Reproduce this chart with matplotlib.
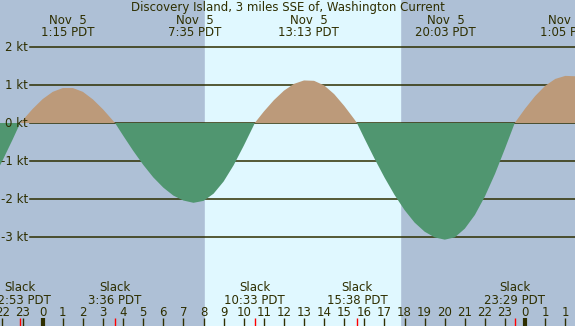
import matplotlib
matplotlib.use("Agg")
import matplotlib.pyplot as plt
import matplotlib.transforms as mtransforms

# hours after Nov 5 00:00 (real elapsed time) and current speed in knots
hours = [-2.5, -2.0, -1.5, -1.117, -1.0, -0.5, 0.0, 0.5, 1.0, 1.5, 2.0, 2.5, 3.0, 3.5, 3.6,
         4.0, 4.5, 5.0, 5.5, 6.0, 6.5, 7.0, 7.5, 8.0, 8.5, 9.0, 9.5, 10.0, 10.5, 10.55,
         11.0, 11.5, 12.0, 12.5, 13.0, 13.5, 14.0, 14.5, 15.0, 15.5, 15.633,
         16.0, 16.5, 17.0, 17.5, 18.0, 18.5, 19.0, 19.5, 20.0, 20.5, 21.0, 21.5, 22.0,
         22.5, 23.0, 23.483, 24.0, 24.5, 25.0, 25.5, 26.0, 26.5]
speed = [-1.50, -0.99, -0.44, 0.0, 0.07, 0.37, 0.63, 0.82, 0.92, 0.92, 0.82, 0.62, 0.36, 0.06, 0.0,
         -0.33, -0.73, -1.10, -1.43, -1.70, -1.91, -2.04, -2.10, -2.05, -1.86, -1.54, -1.11, -0.60, -0.06, 0.0,
         0.30, 0.60, 0.85, 1.03, 1.12, 1.11, 0.99, 0.76, 0.45, 0.10, 0.0,
         -0.40, -0.93, -1.43, -1.89, -2.29, -2.62, -2.86, -3.01, -3.07, -3.01, -2.78, -2.42, -1.93,
         -1.34, -0.67, 0.0, 0.38, 0.71, 0.98, 1.16, 1.24, 1.23]

# max current events
max_hours = [1.25, 7.583, 13.217, 20.05, 26.083]
max_day = ["Nov  5", "Nov  5", "Nov  5", "Nov  5", "Nov  6"]
max_time = ["1:15 PDT", "7:35 PDT", "13:13 PDT", "20:03 PDT", "1:05 PDT"]

# slack events
slack_hours = [-1.117, 3.6, 10.55, 15.633, 23.483]
slack_time = ["22:53 PDT", "3:36 PDT", "10:33 PDT", "15:38 PDT", "23:29 PDT"]

# hour ticks
tick_hours = list(range(-2, 27))
tick_labels = ["22", "23"] + [str(h) for h in range(24)] + ["0", "1", "1"]
midnights = [0, 24]

sunrise = 8.07
sunset = 17.78
kt_levels = [2, 1, 0, -1, -2, -3]

night = "#aec0d6"
day = "#e0f8ff"
flood = "#bc9a7a"
ebb = "#509670"
ink = "#2e2e00"

W, H = 575, 326
fig = plt.figure(figsize=(W / 100, H / 100), dpi=100)
ax = fig.add_axes([0, 0, 1, 1])
ax.set_xlim(-2.124, 26.48)
ax.set_ylim(-5.342, 3.237)
ax.axis("off")
fig.patch.set_facecolor(night)
ax.set_facecolor(night)

ax.axvspan(sunrise, sunset, color=day, zorder=0)

for k in kt_levels:
    ax.axhline(k, xmin=30 / W, xmax=1, color=ink, lw=1.1, zorder=1)
    ax.text(28 / W, k, "%d kt" % k, transform=ax.get_yaxis_transform(), ha="right",
            va="center", fontsize=8.5, color=ink)

pos = [s >= 0 for s in speed]
neg = [s <= 0 for s in speed]
ax.fill_between(hours, speed, 0, where=pos, interpolate=True, color=flood, lw=0, zorder=2)
ax.fill_between(hours, speed, 0, where=neg, interpolate=True, color=ebb, lw=0, zorder=2)

trans = mtransforms.blended_transform_factory(ax.transData, ax.transAxes)


def yf(px):
    return 1 - px / H


ax.text(0.5, yf(11), "Discovery Island, 3 miles SSE of, Washington Current", transform=ax.transAxes,
        ha="center", va="baseline", fontsize=8.5, color=ink)

for h, d, t in zip(max_hours, max_day, max_time):
    ax.text(h, yf(24), d, transform=trans, ha="center", va="baseline", fontsize=8.5, color=ink)
    ax.text(h, yf(35.7), t, transform=trans, ha="center", va="baseline", fontsize=8.5, color=ink)

for h, t in zip(slack_hours, slack_time):
    ax.text(h, yf(290.7), "Slack", transform=trans, ha="center", va="baseline", fontsize=8.5, color=ink)
    ax.text(h, yf(304), t, transform=trans, ha="center", va="baseline", fontsize=8.5, color=ink)
    ax.vlines(h, 0, yf(318), transform=trans, color="red", lw=1, zorder=3)

for h, lab in zip(tick_hours, tick_labels):
    ax.text(h, yf(315.7), lab, transform=trans, ha="center", va="baseline", fontsize=8.5, color=ink)
    lw = 3 if h in midnights else 1
    ax.vlines(h, 0, yf(318), transform=trans, color=ink, lw=lw, zorder=3)

fig.savefig("out.png", dpi=100, facecolor=night)
